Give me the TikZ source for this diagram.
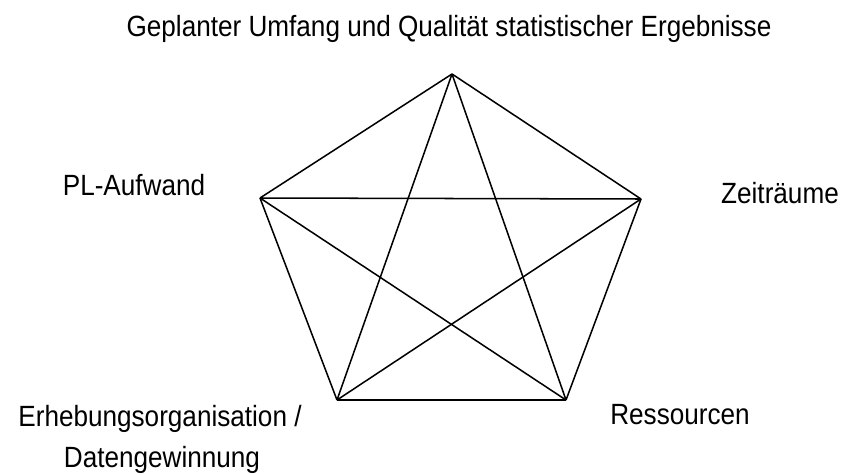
\documentclass[tikz,border=0pt]{standalone}
\usepackage{fontspec}
\usepackage{graphicx}
\setmainfont{Liberation Sans}
\usetikzlibrary{positioning}
% the scanned labels are a little taller than wide
\newcommand{\tallbox}[1]{\scalebox{1}[1.12]{#1}}

\begin{document}
\begin{tikzpicture}[x=0.03cm,y=-0.03cm,
    label/.style={font=\fontsize{22.3}{30}\selectfont, anchor=base, inner sep=0pt},
    edge/.style={line width=1.3pt, black}]
    % picture frame (reference pixel grid)
    \useasboundingbox (0,0) rectangle (844,474);

    % Pentagon corners
    \coordinate (top) at (452,74);
    \coordinate (left) at (260,198);
    \coordinate (right) at (641,199);
    \coordinate (botleft) at (337,400);
    \coordinate (botright) at (566,400);

    % Every corner joined to every other one
    \foreach \a/\b in {top/left, top/right, top/botleft, top/botright,
                       left/right, left/botleft, left/botright,
                       right/botleft, right/botright, botleft/botright} {
      \draw[edge] (\a) -- (\b);
    }

    % Labels
    \node[label] (umfang) at (449,36) {\tallbox{Geplanter Umfang und Qualität statistischer Ergebnisse}};
    \node[label] (aufwand) at (134,195) {\tallbox{PL-Aufwand}};
    \node[label] (zeit) at (780,203) {\tallbox{Zeiträume}};
    \node[label] (ress) at (680,424) {\tallbox{Ressourcen}};
    \node[label] (erhebung) at (160,426) {\tallbox{Erhebungsorganisation /}};
    \node[label] (daten) at (162,467) {\tallbox{Datengewinnung}};
\end{tikzpicture}
\end{document}
